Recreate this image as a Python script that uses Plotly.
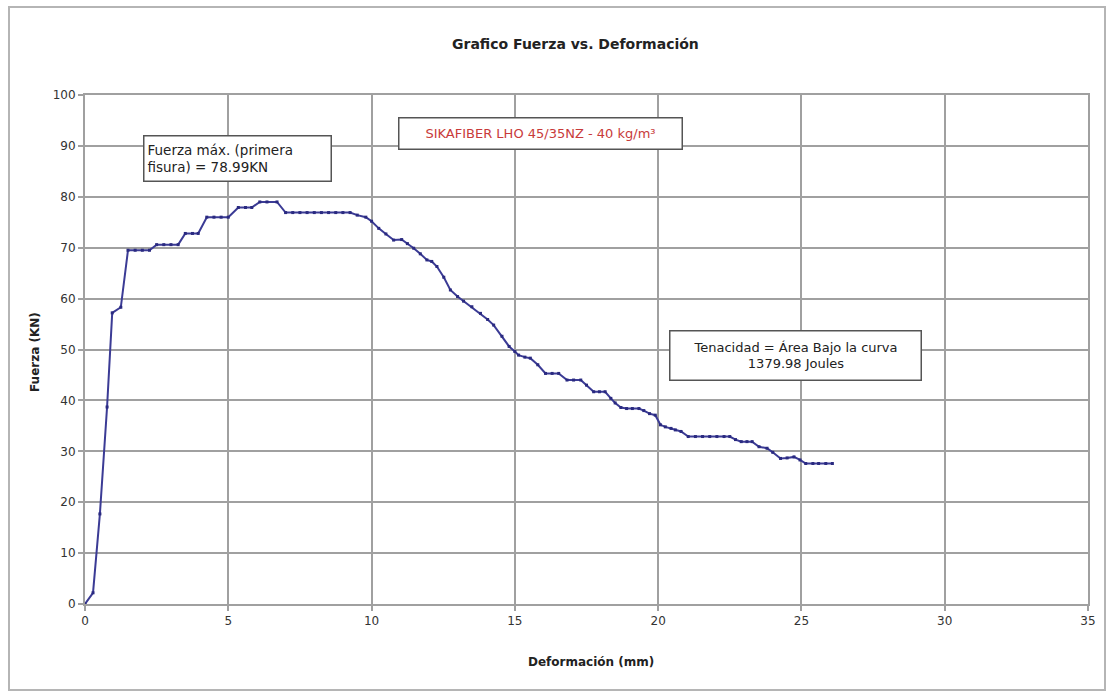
import plotly.graph_objects as go

# Load-deflection record of the fibre-reinforced specimen
deformacion_mm = [
    0, 0.28, 0.52, 0.77, 0.95, 1.25, 1.5, 1.75, 2.0, 2.25,
    2.5, 2.75, 3.0, 3.25, 3.5, 3.75, 3.95, 4.25, 4.5, 4.75,
    5.0, 5.35, 5.6, 5.82, 6.1, 6.35, 6.7, 7.0, 7.25, 7.5,
    7.75, 8.0, 8.25, 8.5, 8.75, 9.0, 9.25, 9.5, 9.8, 10.0,
    10.25, 10.5, 10.77, 11.05, 11.25, 11.47, 11.7, 11.93, 12.1, 12.28,
    12.52, 12.75, 13.0, 13.21, 13.5, 13.8, 14.05, 14.26, 14.55, 14.8,
    15.0, 15.13, 15.35, 15.54, 15.8, 16.07, 16.3, 16.53, 16.82, 17.05,
    17.3, 17.5, 17.75, 17.95, 18.15, 18.35, 18.5, 18.7, 18.9, 19.1,
    19.33, 19.5, 19.7, 19.9, 20.08, 20.25, 20.45, 20.6, 20.8, 21.05,
    21.3, 21.55, 21.8, 22.05, 22.3, 22.5, 22.7, 22.9, 23.1, 23.28,
    23.52, 23.8, 24.0, 24.27, 24.5, 24.74, 24.95, 25.15, 25.4, 25.6,
    25.85, 26.08,
]
fuerza_kn = [
    0, 2.2, 17.7, 38.7, 57.2, 58.3, 69.5, 69.5, 69.5, 69.5,
    70.6, 70.6, 70.6, 70.6, 72.8, 72.8, 72.8, 76.0, 76.0, 76.0,
    76.0, 77.9, 77.9, 77.9, 78.99, 78.99, 78.99, 76.9, 76.9, 76.9,
    76.9, 76.9, 76.9, 76.9, 76.9, 76.9, 76.9, 76.4, 76.0, 75.2,
    73.8, 72.7, 71.5, 71.6, 70.8, 69.9, 68.8, 67.6, 67.3, 66.3,
    64.2, 61.7, 60.4, 59.5, 58.4, 57.1, 55.9, 54.8, 52.6, 50.6,
    49.6, 48.9, 48.5, 48.3, 47.0, 45.3, 45.3, 45.3, 44.0, 44.0,
    44.0, 43.0, 41.7, 41.7, 41.7, 40.4, 39.5, 38.6, 38.4, 38.4,
    38.4, 38.0, 37.4, 37.1, 35.2, 34.8, 34.5, 34.2, 33.9, 32.9,
    32.9, 32.9, 32.9, 32.9, 32.9, 32.9, 32.3, 31.9, 31.9, 31.9,
    30.9, 30.6, 29.8, 28.6, 28.7, 28.9, 28.3, 27.6, 27.6, 27.6,
    27.6, 27.6,
]

x_ticks = [0, 5, 10, 15, 20, 25, 30, 35]
y_ticks = [0, 10, 20, 30, 40, 50, 60, 70, 80, 90, 100]

titulo = "Grafico Fuerza vs. Deformación"
titulo_x = "Deformación (mm)"
titulo_y = "Fuerza (KN)"
nota_max = "Fuerza máx. (primera<br>fisura) = 78.99KN"
nota_material = "SIKAFIBER LHO 45/35NZ - 40 kg/m³"
nota_tenacidad = "Tenacidad = Área Bajo la curva<br>1379.98 Joules"

W, H = 1110, 693
ML, MR, MT, MB = 85, 22, 95, 89
PW, PH = W - ML - MR, H - MT - MB


def px(xp):
    return (xp - ML) / PW


def py(yp):
    return (H - MB - yp) / PH


FONT = "DejaVu Sans, Verdana, sans-serif"
GRID = "#a0a0a0"

fig = go.Figure()
fig.add_trace(go.Scatter(
    x=deformacion_mm, y=fuerza_kn, mode="lines+markers",
    line=dict(color="#3b3b95", width=2),
    marker=dict(symbol="square", size=3, color="#2a2a80"),
    showlegend=False, hoverinfo="x+y",
))

axis_common = dict(
    showgrid=True, gridcolor=GRID, gridwidth=2,
    showline=True, linecolor=GRID, linewidth=2, mirror=True,
    ticks="outside", ticklen=5, tickcolor=GRID, tickwidth=1.5,
    zeroline=False,
    tickfont=dict(family=FONT, size=12, color="#333333"),
)

fig.update_layout(
    width=W, height=H,
    margin=dict(l=ML, r=MR, t=MT, b=MB),
    paper_bgcolor="white", plot_bgcolor="white",
    xaxis=dict(range=[0, 35], tickvals=x_ticks, **axis_common),
    yaxis=dict(range=[0, 100], tickvals=y_ticks, **axis_common),
)

# Outer chart frame
fig.add_shape(type="rect", xref="paper", yref="paper",
              x0=px(9), x1=px(1105), y0=py(690), y1=py(7),
              line=dict(color="#b5b5b5", width=2), layer="below")

fig.add_annotation(text="<b>" + titulo + "</b>", xref="paper", yref="paper",
                   x=px(575), y=py(44), xanchor="center", yanchor="middle", showarrow=False,
                   font=dict(family=FONT, size=14, color="#222222"))
fig.add_annotation(text="<b>" + titulo_x + "</b>", xref="paper", yref="paper",
                   x=px(591), y=py(662), xanchor="center", yanchor="middle", showarrow=False,
                   font=dict(family=FONT, size=12, color="#222222"))
fig.add_annotation(text="<b>" + titulo_y + "</b>", xref="paper", yref="paper",
                   x=px(35), y=py(352), xanchor="center", yanchor="middle", showarrow=False,
                   textangle=-90,
                   font=dict(family=FONT, size=12, color="#222222"))

box = dict(showarrow=False, xref="paper", yref="paper",
           bgcolor="white", bordercolor="#555555", borderwidth=1.5, borderpad=3)

fig.add_annotation(text=nota_max, x=px(143), y=py(135), xanchor="left", yanchor="top",
                   align="left", width=180, height=38,
                   font=dict(family=FONT, size=13.5, color="#222222"), **box)
fig.add_annotation(text=nota_material, x=px(540), y=py(134), xanchor="center", yanchor="middle",
                   width=276, height=24,
                   font=dict(family=FONT, size=13, color="#c83a3a"), **box)
fig.add_annotation(text=nota_tenacidad, x=px(795), y=py(355), xanchor="center", yanchor="middle",
                   align="center", width=244, height=42,
                   font=dict(family=FONT, size=13, color="#222222"), **box)

fig.write_html("out.html")
